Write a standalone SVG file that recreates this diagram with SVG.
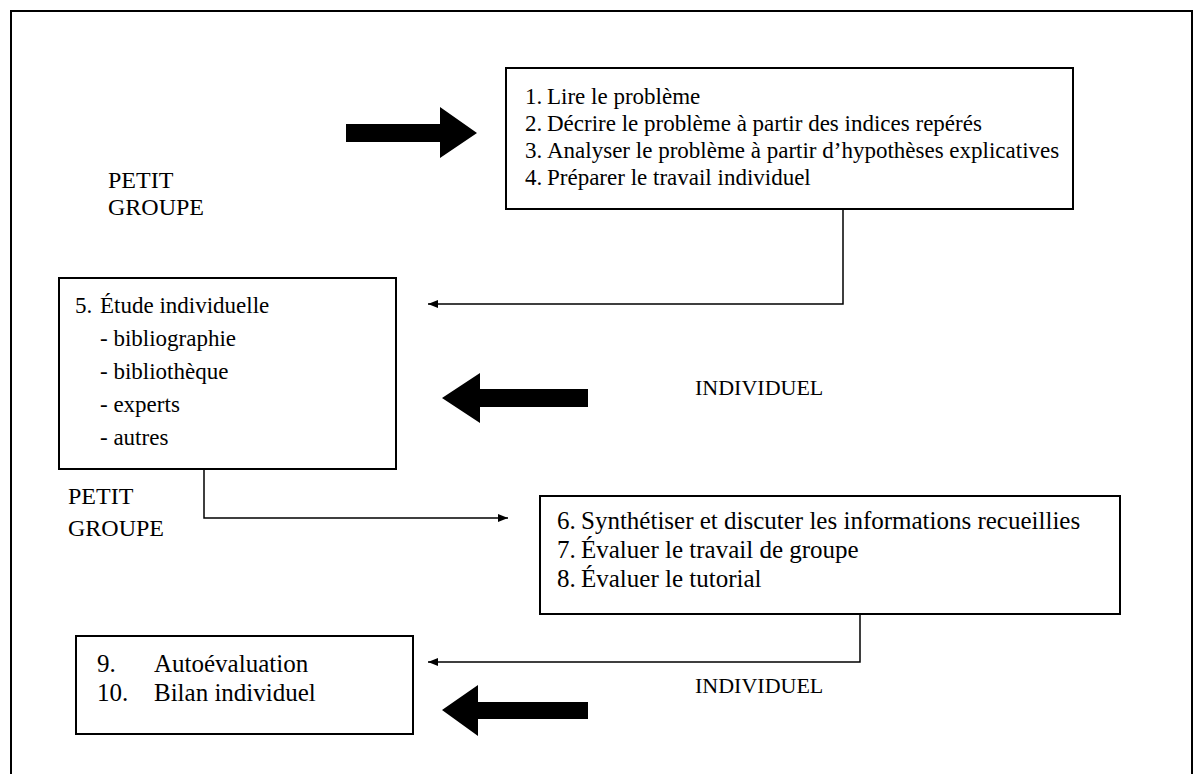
<svg xmlns="http://www.w3.org/2000/svg" width="1204" height="774" viewBox="0 0 1204 774">
<style>
  text { font-family: "Liberation Serif", "Times New Roman", serif; font-size: 23px; fill: #000; }
  .big { font-size: 25px; }
  .lbl { font-size: 22px; }
  .grp { font-size: 24px; }
  .box { fill: #fff; stroke: #000; stroke-width: 2; }
  .conn { fill: none; stroke: #000; stroke-width: 1.5; }
  .thick { fill: #000; stroke: none; }
  .frame { fill: none; stroke: #000; stroke-width: 2; }
</style>
<defs>
  <marker id="ah" viewBox="0 0 10 8" refX="10" refY="4" markerWidth="10" markerHeight="8" markerUnits="userSpaceOnUse" orient="auto">
    <path d="M0,0 L10,4 L0,8 Z" fill="#000"/>
  </marker>
</defs>
<rect width="1204" height="774" fill="#fff"/>
<path class="frame" d="M11,774 V11 H1192 V774"/>

<g id="label-petit-groupe-1">
  <text class="grp" x="108" y="188">PETIT</text>
  <text class="grp" x="108" y="215">GROUPE</text>
</g>
<g id="thick-arrow-1">
  <path class="thick" d="M346,124 H440 V107 L477,133 L440,158 V142 H346 Z"/>
</g>
<g id="box1">
  <rect class="box" x="506" y="68" width="567" height="141"/>
  <text y="104"><tspan x="525">1.</tspan><tspan x="547">Lire le problème</tspan></text>
  <text y="131"><tspan x="525">2.</tspan><tspan x="547">Décrire le problème à partir des indices repérés</tspan></text>
  <text y="158"><tspan x="525">3.</tspan><tspan x="547">Analyser le problème à partir d’hypothèses explicatives</tspan></text>
  <text y="185"><tspan x="525">4.</tspan><tspan x="547">Préparer le travail individuel</tspan></text>
</g>

<g id="box5">
  <rect class="box" x="59" y="278" width="337" height="191"/>
  <text y="313"><tspan x="75">5.</tspan><tspan x="100">Étude individuelle</tspan></text>
  <text x="100" y="346">- bibliographie</text>
  <text x="100" y="379">- bibliothèque</text>
  <text x="100" y="412">- experts</text>
  <text x="100" y="445">- autres</text>
</g>
<g id="thick-arrow-2">
  <path class="thick" d="M588,389 H480 V373 L442,398 L480,423 V407 H588 Z"/>
</g>
<g id="label-individuel-1">
  <text class="lbl" x="695" y="395">INDIVIDUEL</text>
</g>

<g id="label-petit-groupe-2">
  <text class="grp" x="68" y="504">PETIT</text>
  <text class="grp" x="68" y="536">GROUPE</text>
</g>
<g id="box6">
  <rect class="box" x="540" y="496" width="580" height="118"/>
  <text class="big" y="529"><tspan x="557">6.</tspan><tspan x="581">Synthétiser et discuter les informations recueillies</tspan></text>
  <text class="big" y="558"><tspan x="557">7.</tspan><tspan x="581">Évaluer le travail de groupe</tspan></text>
  <text class="big" y="587"><tspan x="557">8.</tspan><tspan x="581">Évaluer le tutorial</tspan></text>
</g>

<g id="box9">
  <rect class="box" x="76" y="636" width="337" height="98"/>
  <text class="big" y="672"><tspan x="97">9.</tspan><tspan x="154">Autoévaluation</tspan></text>
  <text class="big" y="701"><tspan x="97">10.</tspan><tspan x="154">Bilan individuel</tspan></text>
</g>
<g id="thick-arrow-3">
  <path class="thick" d="M588,702 H478 V685 L442,710 L478,736 V719 H588 Z"/>
</g>
<g id="label-individuel-2">
  <text class="lbl" x="695" y="693">INDIVIDUEL</text>
</g>

<g id="connectors">
  <path class="conn" d="M843,209 V304 H428" marker-end="url(#ah)"/>
  <path class="conn" d="M204,469 V518 H508" marker-end="url(#ah)"/>
  <path class="conn" d="M860,614 V662 H428" marker-end="url(#ah)"/>
</g>
</svg>
